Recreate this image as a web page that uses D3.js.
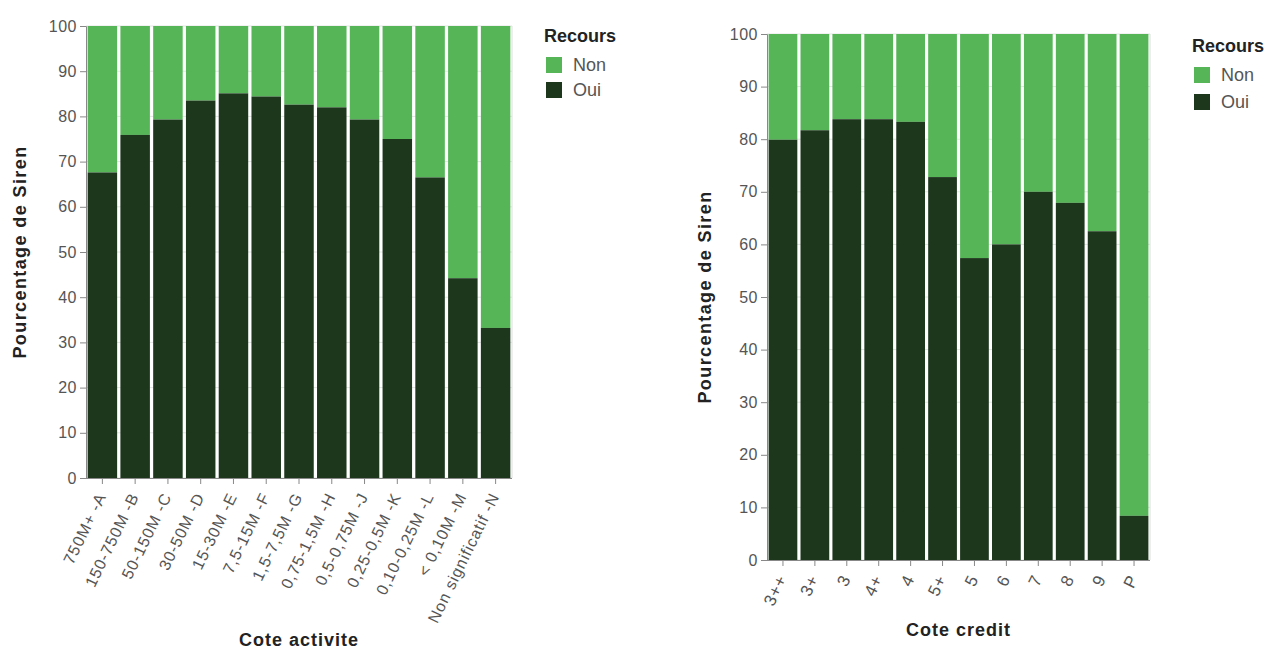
<!DOCTYPE html>
<html><head><meta charset="utf-8">
<script src="https://cdn.jsdelivr.net/npm/d3@7"></script>
<style>
body{margin:0;background:#fff;}
svg text{font-family:"Liberation Sans",Arial,sans-serif;}
</style></head>
<body><svg id="c" width="1280" height="650"></svg>
<script>
const activiteCats = ["750M+ -A","150-750M -B","50-150M -C","30-50M -D","15-30M -E","7,5-15M -F","1,5-7,5M -G","0,75-1,5M -H","0,5-0,75M -J","0,25-0,5M -K","0,10-0,25M -L","< 0,10M -M","Non significatif -N"];
const activiteOui = [67.6,75.9,79.3,83.5,85.1,84.4,82.6,82.0,79.3,75.0,66.5,44.2,33.2];
const creditCats = ["3++","3+","3","4+","4","5+","5","6","7","8","9","P"];
const creditOui = [79.9,81.7,83.8,83.8,83.3,72.8,57.4,60.0,70.0,67.9,62.5,8.4];
const yTicks = [0,10,20,30,40,50,60,70,80,90,100];
const recoursLabels = ["Non","Oui"];
const colors = {Non:"#55b557", Oui:"#1c371c"};

const svg = d3.select("#c");

function drawChart(cfg){
  const g = svg.append("g");
  const x = d3.scaleBand().domain(cfg.cats).range([cfg.x0,cfg.x1]).paddingInner(0.1).paddingOuter(0.05);
  const y = d3.scaleLinear().domain([0,100]).range([cfg.y0,cfg.y1]);
  g.selectAll("line.grid").data(yTicks).join("line")
    .attr("x1",cfg.x0).attr("x2",cfg.x1).attr("y1",d=>y(d)).attr("y2",d=>y(d))
    .attr("stroke","#e4e4e4").attr("stroke-width",1);
  g.append("line").attr("x1",cfg.x1).attr("x2",cfg.x1).attr("y1",cfg.y1).attr("y2",cfg.y0).attr("stroke","#dddddd");
  const data = cfg.cats.map((c,i)=>({c,oui:cfg.oui[i]}));
  g.selectAll("rect.non").data(data).join("rect")
    .attr("x",d=>x(d.c)).attr("width",x.bandwidth())
    .attr("y",y(100)).attr("height",d=>y(d.oui)-y(100)).attr("fill",colors.Non);
  g.selectAll("rect.oui").data(data).join("rect")
    .attr("x",d=>x(d.c)).attr("width",x.bandwidth())
    .attr("y",d=>y(d.oui)).attr("height",d=>y(0)-y(d.oui)).attr("fill",colors.Oui);
  const ya = g.append("g").attr("transform",`translate(${cfg.x0},0)`)
    .call(d3.axisLeft(y).tickValues(yTicks).tickSize(6).tickPadding(3));
  ya.select(".domain").attr("stroke","#888");
  ya.selectAll(".tick line").attr("stroke","#888");
  ya.selectAll(".tick text").attr("fill","#555").attr("font-size",16).attr("letter-spacing","0.5px");
  const xa = g.append("g").attr("transform",`translate(0,${cfg.y0})`)
    .call(d3.axisBottom(x).tickSize(6).tickPadding(2));
  xa.select(".domain").attr("stroke","#888").attr("d",`M${cfg.x0},0.5H${cfg.x1}`);
  xa.selectAll(".tick line").attr("stroke","#888");
  xa.selectAll(".tick text").attr("fill","#555").attr("font-size",cfg.xfs)
    .attr("text-anchor","end").attr("dy","0.35em").attr("letter-spacing","0.9px")
    .attr("transform",`translate(0,${cfg.xoff}) rotate(${cfg.angle})`).attr("y",0).attr("x",-2);
  g.append("text").attr("x",(cfg.x0+cfg.x1)/2).attr("y",cfg.xtY).attr("text-anchor","middle")
    .attr("font-size",18).attr("font-weight","bold").attr("fill","#222").attr("letter-spacing","1px").text(cfg.xtitle);
  g.append("text").attr("transform",`translate(${cfg.ytX},${(cfg.y0+cfg.y1)/2}) rotate(-90)`)
    .attr("text-anchor","middle").attr("font-size",18).attr("font-weight","bold").attr("fill","#222")
    .attr("letter-spacing","1.4px").text("Pourcentage de Siren");
  const lg = g.append("g").attr("transform",`translate(${cfg.lx},${cfg.ly})`);
  lg.append("text").attr("x",-2).attr("y",0).attr("font-size",18).attr("font-weight","bold").attr("fill","#222").text("Recours");
  recoursLabels.forEach((l,i)=>{
    lg.append("rect").attr("x",0).attr("y",15+i*cfg.lstep).attr("width",16).attr("height",16).attr("fill",colors[l]);
    lg.append("text").attr("x",27).attr("y",29+i*cfg.lstep).attr("font-size",18).attr("fill","#555").text(l);
  });
}

drawChart({cats:activiteCats, oui:activiteOui, x0:86, x1:512, y0:478, y1:26, xfs:16, angle:-64, xoff:14,
  xtitle:"Cote activite", xtY:646, ytX:26, lx:546, ly:42, lstep:25});
drawChart({cats:creditCats, oui:creditOui, x0:767, x1:1150, y0:560, y1:34, xfs:17, angle:-64, xoff:14,
  xtitle:"Cote credit", xtY:636, ytX:711, lx:1194, ly:52, lstep:27});
</script></body></html>
